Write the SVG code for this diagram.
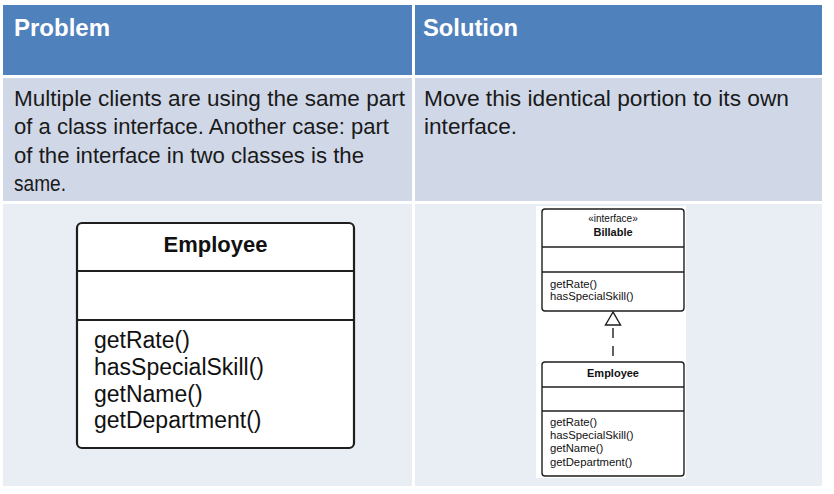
<svg xmlns="http://www.w3.org/2000/svg" width="834" height="494" viewBox="0 0 834 494">
<style>
.hd{fill:#4F81BD}
.r2{fill:#D0D8E8}
.r3{fill:#E9EDF4}
.ht{font-family:"Liberation Sans",Arial,sans-serif;font-weight:bold;font-size:24px;fill:#fff}
.bt{font-family:"Liberation Sans",Arial,sans-serif;font-size:22px;fill:#1a1a1a}
.box{fill:#fff;stroke:#1e1e1e}
.ln{stroke:#1e1e1e}
.u{font-family:"Liberation Sans",Arial,sans-serif;fill:#111}
</style>
<rect width="834" height="494" fill="#fff"/>
<g id="table">
<rect class="hd" x="3" y="5" width="409" height="70"/>
<rect class="hd" x="415" y="5" width="407" height="70"/>
<rect class="r2" x="3" y="78" width="409" height="123"/>
<rect class="r2" x="415" y="78" width="407" height="123"/>
<rect class="r3" x="3" y="204" width="409" height="282"/>
<rect class="r3" x="415" y="204" width="407" height="282"/>
<text class="ht" x="14" y="36" textLength="96" lengthAdjust="spacingAndGlyphs">Problem</text>
<text class="ht" x="423" y="36" textLength="95" lengthAdjust="spacingAndGlyphs">Solution</text>
<text class="bt" x="14" y="106" textLength="391" lengthAdjust="spacingAndGlyphs">Multiple clients are using the same part</text>
<text class="bt" x="14" y="134" textLength="375" lengthAdjust="spacingAndGlyphs">of a class interface. Another case: part</text>
<text class="bt" x="14" y="163" textLength="350" lengthAdjust="spacingAndGlyphs">of the interface in two classes is the</text>
<text class="bt" x="14" y="191" textLength="52" lengthAdjust="spacingAndGlyphs">same.</text>
<text class="bt" x="424" y="106" textLength="365" lengthAdjust="spacingAndGlyphs">Move this identical portion to its own</text>
<text class="bt" x="424" y="134" textLength="93" lengthAdjust="spacingAndGlyphs">interface.</text>
</g>
<g id="employee-left">
<rect class="box" x="77" y="223" width="277" height="225" rx="5" stroke-width="2.2"/>
<line class="ln" x1="77" y1="271" x2="354" y2="271" stroke-width="2.2"/>
<line class="ln" x1="77" y1="320" x2="354" y2="320" stroke-width="2.2"/>
<text class="u" x="215.5" y="252" font-size="22" font-weight="bold" text-anchor="middle">Employee</text>
<text class="u" x="94" y="348" font-size="23">getRate()</text>
<text class="u" x="94" y="375" font-size="23">hasSpecialSkill()</text>
<text class="u" x="94" y="402" font-size="23">getName()</text>
<text class="u" x="94" y="428" font-size="23">getDepartment()</text>
</g>
<rect x="536" y="206" width="150" height="272" fill="#fff"/>
<g id="billable">
<rect class="box" x="542" y="209" width="142" height="102" rx="3" stroke-width="1.4"/>
<line class="ln" x1="542" y1="247" x2="684" y2="247" stroke-width="1.4"/>
<line class="ln" x1="542" y1="272" x2="684" y2="272" stroke-width="1.4"/>
<text class="u" x="613" y="222" font-size="10" text-anchor="middle">«interface»</text>
<text class="u" x="613" y="236" font-size="11" font-weight="bold" text-anchor="middle">Billable</text>
<text class="u" x="550" y="288" font-size="11.3">getRate()</text>
<text class="u" x="550" y="300" font-size="11.3">hasSpecialSkill()</text>
</g>
<g id="employee-right">
<rect class="box" x="542" y="362" width="142" height="114" rx="3" stroke-width="1.4"/>
<line class="ln" x1="542" y1="387" x2="684" y2="387" stroke-width="1.4"/>
<line class="ln" x1="542" y1="411" x2="684" y2="411" stroke-width="1.4"/>
<text class="u" x="613" y="377" font-size="11" font-weight="bold" text-anchor="middle">Employee</text>
<text class="u" x="550" y="426" font-size="11.3">getRate()</text>
<text class="u" x="550" y="439" font-size="11.3">hasSpecialSkill()</text>
<text class="u" x="550" y="452" font-size="11.3">getName()</text>
<text class="u" x="550" y="466" font-size="11.3">getDepartment()</text>
</g>
<g id="connectors">
<line x1="613" y1="325" x2="613" y2="362" stroke="#1e1e1e" stroke-width="1.4" stroke-dasharray="10,8" stroke-dashoffset="-3"/>
<polygon points="613,312 605.5,325 620.5,325" fill="#fff" stroke="#1e1e1e" stroke-width="1.4"/>
</g>
</svg>
